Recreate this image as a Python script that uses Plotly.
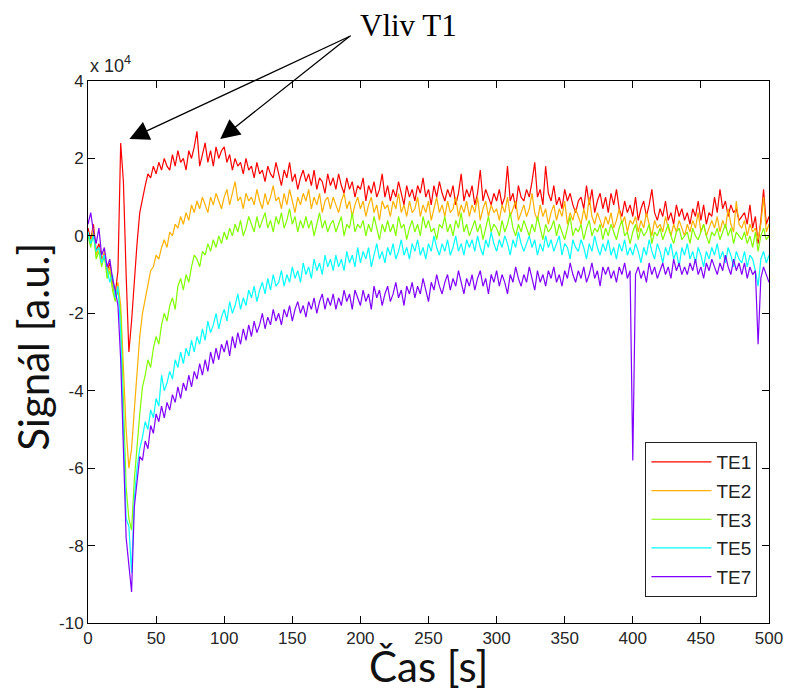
import plotly.graph_objects as go

# time axis (s), sampled every 2 s
time_s = list(range(0, 501, 2))

# signal values in units of 1e4
te1 = [
    0.2, -0.1, 0.3, -0.4, -0.2, -0.6, -0.5, -0.9, -0.7, -1.2,
    -1.5, -0.9, 2.4, 1.4, -1.0, -3.0, -2.2, -1.1, -0.2, 0.6,
    1.0, 1.3, 1.6, 1.5, 1.8, 1.6, 1.9, 1.7, 2.0, 1.8,
    1.7, 2.1, 1.8, 2.2, 1.9, 2.0, 1.7, 2.2, 2.0, 2.3,
    2.7, 1.8, 2.1, 2.4, 1.9, 2.2, 1.8, 2.3, 2.0, 2.2,
    2.3, 1.9, 2.1, 1.7, 2.0, 1.8, 1.9, 1.6, 2.0, 1.7,
    1.8, 1.5, 1.9, 1.6, 1.7, 1.4, 1.8, 1.6, 1.5, 1.9,
    1.6, 1.3, 1.7, 1.5, 1.9, 1.4, 1.6, 1.2, 1.5, 1.7,
    1.4, 1.6, 1.3, 1.7, 1.2, 1.5, 1.4, 1.1, 1.6, 1.3,
    1.5, 1.2, 1.6, 1.3, 1.1, 1.5, 1.2, 1.4, 1.0, 1.3,
    1.2, 1.5, 0.9, 1.3, 1.1, 1.4, 1.0, 1.2, 1.6, 1.0,
    1.3, 0.9, 1.2, 1.0, 1.4, 1.1, 0.8, 1.3, 1.0, 1.2,
    0.9, 1.3, 1.1, 1.5, 1.0, 1.2, 0.8, 1.3, 1.0, 1.4,
    1.1, 0.9, 1.2, 1.0, 1.3, 0.8, 1.1, 1.6, 0.9, 1.2,
    1.0, 1.3, 0.8, 1.1, 1.7, 0.9, 1.2, 1.0, 0.8, 1.1,
    0.9, 1.2, 0.8, 1.0, 1.8, 0.9, 1.1, 0.7, 1.3, 1.0,
    0.9, 1.2, 1.0, 1.4, 1.9, 1.0, 1.2, 0.8, 1.8, 1.1,
    0.9, 1.3, 0.8, 1.0, 0.7, 1.2, 0.9, 1.1, 0.8, 0.6,
    0.9, 1.0, 0.7, 1.3, 0.8, 1.2, 0.6, 0.9, 1.1, 0.7,
    1.0, 0.6, 1.1, 0.8, 1.2, 0.7, 0.5, 0.9, 0.6, 0.8,
    0.5, 1.0, 0.4, 0.7, 0.9, 0.5, 0.8, 1.2, 0.6, 0.4,
    0.7, 0.5, 0.9, 0.4, 0.6, 0.3, 0.8, 0.5, 0.7, 0.4,
    0.6, 0.3, 0.7, 0.5, 0.9, 0.4, 0.8, 0.3, 0.6, 0.5,
    1.0, 0.6, 1.2, 0.7, 0.9, 0.5, 0.8, 0.6, 0.7, 0.4,
    0.5, 0.6, 0.3, 0.8, 0.2, 0.5, -0.2, 0.4, 1.2, 0.3,
    0.5,
]

te2 = [
    0.1, -0.2, 0.2, -0.5, -0.3, -0.7, -0.4, -1.0, -0.8, -1.3,
    -1.6, -1.2, -1.8, -3.5, -5.0, -6.0, -5.5, -4.5, -3.4, -2.6,
    -2.0, -1.6, -1.3, -0.9, -0.8, -0.5, -0.6, -0.3, -0.1, -0.3,
    0.1, 0.0, 0.3, 0.2, 0.5, 0.3, 0.6, 0.4, 0.8, 0.6,
    0.9, 0.7, 1.0, 0.8, 0.6, 1.0, 0.8, 1.1, 0.9, 0.7,
    1.0, 1.2, 0.8, 1.1, 1.4, 0.9, 1.0, 0.7, 1.1, 0.9,
    1.0, 0.8, 1.2, 0.9, 0.7, 1.1, 0.8, 1.0, 1.3, 0.9,
    1.0, 0.7, 1.1, 0.8, 1.2, 0.9, 0.6, 1.0, 0.8, 1.1,
    0.9, 1.2, 0.7, 1.0, 0.8, 1.1, 0.6, 0.9, 1.0, 0.7,
    1.0, 0.8, 0.6, 0.9, 1.1, 0.7, 0.9, 0.5, 0.8, 1.0,
    0.7, 0.9, 0.5, 0.8, 1.0, 0.6, 0.8, 0.4, 0.9, 0.7,
    0.8, 0.5, 0.9, 0.7, 1.1, 0.6, 0.8, 0.5, 0.9, 0.6,
    0.7, 1.0, 0.5, 0.8, 0.6, 0.9, 0.4, 0.7, 1.0, 0.6,
    0.8, 0.5, 0.9, 0.6, 0.7, 1.0, 0.5, 0.8, 0.6, 0.9,
    0.5, 0.8, 0.6, 1.0, 0.4, 0.7, 0.9, 0.5, 0.8, 0.6,
    0.7, 0.4, 0.8, 0.6, 1.0, 0.5, 0.7, 0.9, 0.4, 0.6,
    0.8, 0.5, 0.7, 1.1, 0.6, 0.4, 0.8, 0.5, 0.7, 0.3,
    0.6, 0.8, 0.4, 0.7, 0.5, 0.9, 0.3, 0.6, 0.4, 0.7,
    0.5, 0.3, 0.7, 0.4, 1.0, 0.5, 0.3, 0.6, 0.4, 0.2,
    0.5, 0.3, 0.6, 0.2, 0.4, 0.7, 0.3, 0.5, 0.1, 0.4,
    0.3, 0.5, 0.1, 0.4, 0.2, 0.6, 0.3, 0.0, 0.4, 0.2,
    0.3, 0.1, 0.5, 0.2, 0.0, 0.3, 0.1, 0.4, 0.2, 0.0,
    0.3, 0.1, 0.4, 0.2, 0.6, 0.1, 0.3, 0.0, 0.2, 0.4,
    0.2, 0.5, 0.1, 0.4, 0.2, 0.7, 0.3, 0.1, 0.9, 0.3,
    0.2, 0.4, 0.0, 0.3, 0.1, 0.2, -0.1, 0.3, 1.0, 0.1,
    0.3,
]

te3 = [
    0.0, -0.3, 0.1, -0.6, -0.4, -0.8, -0.5, -1.1, -0.9, -1.4,
    -1.7, -1.4, -2.0, -4.0, -6.5, -7.3, -7.6, -6.3, -5.4, -4.6,
    -3.9, -3.6, -3.2, -3.4, -2.9, -2.6, -2.8, -2.3, -2.0, -2.2,
    -1.8, -1.6, -1.9, -1.3, -1.1, -1.4, -1.0, -1.2, -0.8, -0.5,
    -0.6, -0.8, -0.4, -0.5, -0.2, -0.4, -0.1, -0.3, 0.0, -0.2,
    0.1, -0.1, 0.2, 0.0, 0.3, 0.1, 0.4, 0.0, 0.2, 0.5,
    0.3, 0.1, 0.5, 0.2, 0.4, 0.6, 0.2, 0.4, 0.1, 0.5,
    0.3, 0.6, 0.2, 0.4, 0.7, 0.3, 0.5, 0.1, 0.4, 0.2,
    0.5, 0.2, 0.4, 0.0, 0.3, 0.6, 0.2, 0.4, 0.1, 0.3,
    0.4, 0.1, 0.3, 0.5, 0.0, 0.3, 0.2, 0.6, 0.1, 0.3,
    0.2, 0.4, 0.0, 0.3, 0.1, 0.5, 0.2, -0.1, 0.3, 0.1,
    0.4, 0.1, 0.3, 0.0, 0.5, 0.2, 0.3, -0.1, 0.2, 0.4,
    0.1, 0.3, 0.0, 0.5, 0.2, 0.4, 0.1, 0.2, -0.1, 0.3,
    0.2, 0.5, 0.1, 0.3, 0.0, 0.4, 0.2, 0.6, 0.1, 0.3,
    0.0, 0.2, 0.4, 0.1, 0.3, -0.1, 0.2, 0.5, 0.1, 0.3,
    0.2, 0.0, 0.4, 0.1, 0.3, 0.6, 0.2, 0.0, 0.3, 0.1,
    0.4, 0.2, 0.0, 0.3, 0.1, 0.5, 0.2, -0.1, 0.3, 0.1,
    0.2, 0.4, 0.0, 0.3, 0.1, -0.1, 0.2, 0.5, 0.0, 0.2,
    0.1, 0.3, -0.1, 0.2, 0.4, 0.0, 0.2, 0.1, 0.3, -0.1,
    0.2, 0.0, 0.3, 0.1, -0.1, 0.2, 0.4, 0.0, 0.1, -0.2,
    0.1, 0.3, -0.1, 0.2, 0.0, 0.1, 0.3, -0.2, 0.1, 0.0,
    0.2, -0.1, 0.1, 0.3, 0.0, -0.2, 0.1, 0.2, -0.1, 0.0,
    0.1, -0.2, 0.2, 0.0, -0.1, 0.1, 0.3, 0.0, -0.2, 0.1,
    0.0, 0.2, -0.1, 0.1, 0.3, 0.0, 0.2, -0.2, 0.1, 0.0,
    -0.1, 0.1, -0.2, 0.0, -0.3, 0.1, -0.4, 0.0, 0.2, -0.1,
    0.0,
]

te5 = [
    0.1, -0.2, 0.0, -0.4, -0.3, -0.7, -0.5, -0.9, -1.2, -1.0,
    -1.6, -1.3, -2.5, -5.0, -7.3, -7.5, -8.7, -6.8, -6.0, -5.5,
    -5.2, -4.8, -5.0, -4.5, -4.7, -4.2, -4.4, -3.6, -4.0, -3.8,
    -3.5, -3.7, -3.2, -3.4, -3.0, -3.3, -2.9, -3.1, -2.7, -3.0,
    -2.6, -2.8, -2.4, -2.7, -2.2, -2.5, -2.3, -2.0, -2.4, -2.1,
    -1.9, -2.2, -1.7, -2.0, -1.8, -1.5, -1.9, -1.6, -1.8, -1.4,
    -1.6, -1.3, -1.7, -1.4, -1.2, -1.5, -1.1, -1.4, -1.0, -1.3,
    -1.2, -0.9, -1.3, -1.0, -1.2, -0.8, -1.1, -0.9, -1.2, -0.7,
    -1.0, -0.8, -1.1, -0.6, -0.9, -0.7, -1.0, -0.5, -0.8, -0.6,
    -0.9, -0.5, -0.8, -0.6, -0.9, -0.4, -0.7, -0.5, -0.8, -0.3,
    -0.7, -0.4, -0.6, -0.3, -0.8, -0.5, -0.2, -0.6, -0.4, -0.7,
    -0.3, -0.5, -0.2, -0.6, -0.4, -0.1, -0.5, -0.3, -0.6, -0.2,
    -0.4, -0.1, -0.5, -0.3, -0.6, -0.2, -0.4, 0.0, -0.3, -0.5,
    -0.2, -0.4, -0.1, -0.5, -0.3, 0.0, -0.4, -0.2, -0.5, -0.1,
    -0.3, -0.1, -0.4, 0.0, -0.3, -0.5, -0.1, -0.3, 0.1, -0.2,
    -0.4, -0.1, -0.3, 0.0, -0.2, -0.5, -0.1, -0.3, 0.1, -0.2,
    -0.4, -0.2, 0.0, -0.3, -0.1, -0.5, -0.2, -0.4, 0.0, -0.3,
    -0.1, -0.4, -0.2, 0.0, -0.5, -0.2, -0.3, -0.6, -0.1, -0.3,
    -0.4, -0.1, -0.3, -0.6, -0.2, -0.4, 0.0, -0.3, -0.5, -0.2,
    -0.4, -0.1, -0.5, -0.3, -0.6, -0.2, -0.4, -0.1, -0.5, -0.3,
    -0.5, -0.2, -0.4, -0.7, -0.3, -0.5, -0.1, -0.4, -0.6, -0.2,
    -0.4, -0.7, -0.3, -0.5, -0.2, -0.6, -0.4, -0.8, -0.3, -0.5,
    -0.2, -0.6, -0.4, -0.7, -0.3, -0.5, -0.8, -0.4, -0.6, -0.3,
    -0.5, -0.2, -0.6, -0.4, -0.7, -0.3, -0.5, -0.8, -0.4, -0.6,
    -0.7, -0.4, -0.8, -0.5, -0.6, -0.9, -1.3, -0.6, -0.4, -0.7,
    -0.5,
]

te7 = [
    0.3, 0.6, 0.1, -0.2, 0.2, -0.5, -0.3, -0.8, -0.6, -1.1,
    -1.4, -1.8, -3.2, -5.6, -7.8, -8.5, -9.2, -7.0, -6.3, -5.7,
    -5.8, -5.3, -5.5, -4.9, -5.1, -4.6, -4.8, -4.4, -4.7, -4.3,
    -4.5, -4.1, -4.3, -3.9, -4.2, -3.8, -4.0, -3.6, -3.9, -3.5,
    -3.7, -3.3, -3.6, -3.2, -3.5, -3.0, -3.3, -2.9, -3.2, -2.8,
    -3.0, -2.7, -3.1, -2.6, -2.9, -2.5, -2.8, -2.4, -2.7, -2.3,
    -2.6, -2.2, -2.5, -2.3, -2.0, -2.4, -2.1, -2.3, -1.9, -2.2,
    -2.0, -2.3, -1.9, -2.1, -1.8, -2.2, -1.9, -1.7, -2.0, -1.8,
    -2.1, -1.7, -1.9, -1.6, -2.0, -1.7, -1.5, -1.9, -1.6, -1.8,
    -1.5, -1.9, -1.6, -1.8, -1.4, -1.7, -1.5, -1.9, -1.4, -1.6,
    -1.8, -1.4, -1.7, -1.5, -1.9, -1.3, -1.6, -1.4, -1.8, -1.5,
    -1.3, -1.7, -1.5, -1.2, -1.6, -1.4, -1.8, -1.3, -1.5, -1.2,
    -1.6, -1.3, -1.5, -1.1, -1.4, -1.7, -1.2, -1.4, -1.0, -1.3,
    -1.5, -1.2, -1.0, -1.4, -1.1, -1.3, -0.9, -1.2, -1.5, -1.1,
    -1.3, -1.0, -1.4, -1.1, -0.9, -1.3, -1.1, -1.5, -1.0, -1.2,
    -0.9, -1.3, -1.0, -1.2, -1.5, -1.0, -1.2, -0.8, -1.1, -1.3,
    -1.0, -1.2, -0.8, -1.1, -1.4, -0.9, -1.2, -1.0, -1.3, -0.9,
    -1.1, -0.8, -1.2, -1.0, -1.3, -0.9, -1.1, -0.7, -1.0, -1.2,
    -0.9, -1.1, -0.8, -1.2, -1.0, -0.7, -1.1, -0.9, -1.3, -0.8,
    -1.0, -0.8, -1.1, -0.9, -1.2, -0.8, -1.0, -0.7, -1.1, -0.9,
    -5.8, -1.0, -0.8, -1.1, -0.9, -1.2, -0.7, -1.0, -0.8, -1.1,
    -0.9, -0.7, -1.0, -0.8, -1.1, -0.6, -0.9, -0.7, -1.0, -0.8,
    -1.0, -0.7, -0.9, -0.6, -1.0, -0.8, -1.1, -0.7, -0.9, -0.6,
    -0.8, -1.0, -0.7, -0.9, -0.5, -0.8, -1.0, -0.6, -0.9, -0.7,
    -1.0, -0.7, -1.1, -0.8, -1.0, -0.9, -2.8, -1.1, -0.8, -1.0,
    -1.2,
]

series_names = ["TE1", "TE2", "TE3", "TE5", "TE7"]
series_values = [te1, te2, te3, te5, te7]
series_colors = ["#ff0000", "#ffb000", "#80ff00", "#00ffff", "#8000ff"]

x_ticks = [0, 50, 100, 150, 200, 250, 300, 350, 400, 450, 500]
y_ticks = [-10, -8, -6, -4, -2, 0, 2, 4]
y_tick_labels = ["-10", "-8", "-6", "-4", "-2", "0", "2", "4"]

tick_font = dict(family="Liberation Sans Narrow, Liberation Sans, Arial", size=17, color="#262626")
title_font_family = "Lato, Carlito, Calibri, Noto Sans"

fig = go.Figure()
for name, vals, col in zip(series_names, series_values, series_colors):
    fig.add_trace(go.Scatter(
        x=time_s, y=vals, mode="lines", name=name, legendgroup=name,
        line=dict(color=col, width=1.2),
    ))

axis_common = dict(
    showgrid=False, zeroline=False, showline=True, linecolor="black", linewidth=1,
    mirror="ticks", ticks="inside", ticklen=7, tickcolor="black", tickwidth=1,
    tickfont=tick_font,
)

fig.update_layout(
    width=795, height=691,
    margin=dict(l=88, r=17, t=81, b=68),
    paper_bgcolor="white", plot_bgcolor="white",
    showlegend=True,
    legend=dict(
        x=0.983, xanchor="right", y=0.048, yanchor="bottom",
        bgcolor="white", bordercolor="#222", borderwidth=1,
        font=dict(family="Liberation Sans Narrow, Liberation Sans, Arial", size=19, color="#222"),
        tracegroupgap=1, itemwidth=60,
    ),
    xaxis=dict(range=[0, 500], tickvals=x_ticks, **axis_common),
    yaxis=dict(range=[-10, 4], tickvals=y_ticks, ticktext=y_tick_labels, **axis_common),
)

annotations = [
    dict(text="Čas [s]", xref="paper", yref="paper", x=0.5, y=-0.079,
         xanchor="center", yanchor="middle", showarrow=False,
         font=dict(family=title_font_family, size=42, color="#111")),
    dict(text="Signál [a.u.]", xref="paper", yref="paper", x=-0.082, y=0.51,
         xanchor="center", yanchor="middle", showarrow=False, textangle=-90,
         font=dict(family=title_font_family, size=42, color="#111")),
    dict(text="x 10<sup>4</sup>", xref="paper", yref="paper", x=0.0, y=1.005,
         xanchor="left", yanchor="bottom", showarrow=False,
         font=dict(family="Liberation Sans Narrow, Liberation Sans, Arial", size=18, color="#262626")),
    dict(text="Vliv T1", xref="paper", yref="paper", x=0.397, y=1.102,
         xanchor="left", yanchor="middle", showarrow=False,
         font=dict(family="Liberation Serif, Times New Roman, serif", size=31, color="black")),
    dict(text="", x=30.4, y=2.5, xref="x", yref="y", ax=223, ay=-104,
         showarrow=True, arrowhead=2, arrowsize=3, arrowwidth=1.3, arrowcolor="black"),
    dict(text="", x=97.1, y=2.5, xref="x", yref="y", ax=131, ay=-104,
         showarrow=True, arrowhead=2, arrowsize=3, arrowwidth=1.3, arrowcolor="black"),
]
fig.update_layout(annotations=annotations)

fig.write_html(
    "out.html",
    config={"displayModeBar": False},
    post_script="document.body.style.margin='0';document.body.style.overflow='hidden';",
)
